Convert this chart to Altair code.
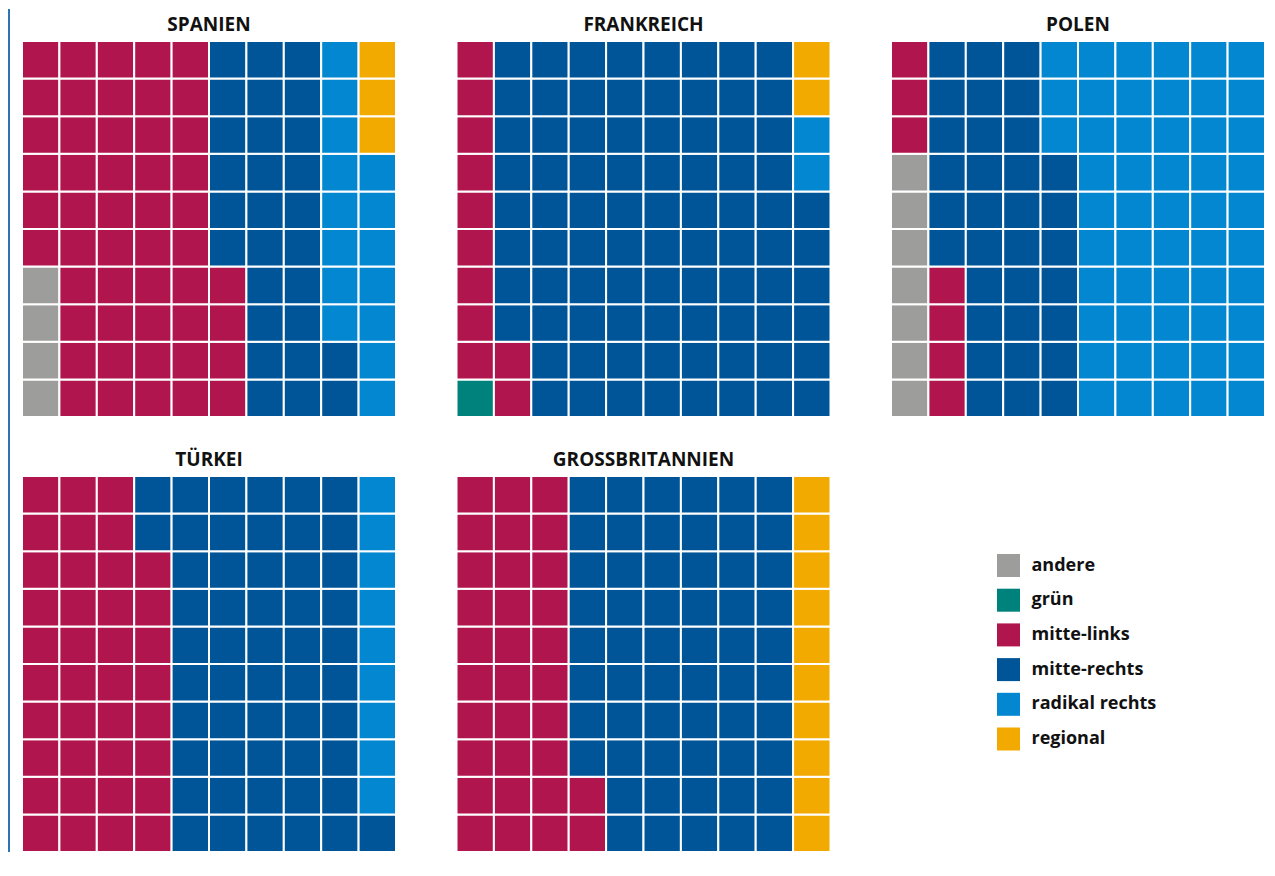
import altair as alt
import pandas as pd

countries = ["SPANIEN", "FRANKREICH", "POLEN", "TÜRKEI", "GROSSBRITANNIEN"]
categories = ["andere", "grün", "mitte-links", "mitte-rechts", "radikal rechts", "regional"]
colors = ["#9d9d9c", "#00827c", "#b0154d", "#005598", "#0287d0", "#f2a900"]

# number of cells (out of 100) per category, in the order of `categories`
spanien = [4, 0, 50, 28, 15, 3]
frankreich = [0, 1, 11, 84, 2, 2]
polen = [7, 0, 7, 33, 53, 0]
tuerkei = [0, 0, 38, 53, 9, 0]
grossbritannien = [0, 0, 32, 58, 0, 10]

counts = [spanien, frankreich, polen, tuerkei, grossbritannien]

rows = []
for land, cnt in zip(countries, counts):
    i = 0
    for cat, n in zip(categories, cnt):
        for _ in range(n):
            rows.append({"land": land, "kategorie": cat, "col": i // 10, "row": i % 10})
            i += 1
df = pd.DataFrame(rows)

FONT = "Open Sans"
W, H = 374, 376
COL_GAP, ROW_GAP = 60.5, 59

color = alt.Color(
    "kategorie:N",
    scale=alt.Scale(domain=categories, range=colors),
    legend=alt.Legend(
        orient="none", legendX=975, legendY=513, title=None,
        symbolType="square", symbolSize=529, symbolStrokeWidth=0, symbolOpacity=1,
        labelFontSize=18, labelFont=FONT, labelFontWeight="bold", labelColor="#111111",
        rowPadding=11.7, labelOffset=11.5, padding=0, labelLimit=300,
    ),
)


def panel(name):
    return (
        alt.Chart(df)
        .transform_filter(alt.datum.land == name)
        .mark_rect(stroke="white", strokeWidth=2)
        .encode(
            x=alt.X("col:O", axis=None, scale=alt.Scale(domain=list(range(10)))),
            y=alt.Y("row:O", axis=None, scale=alt.Scale(domain=list(range(9, -1, -1)))),
            color=color,
        )
        .properties(
            width=W, height=H,
            title=alt.TitleParams(
                name, fontSize=19, font=FONT, fontWeight="bold", color="#111111",
                anchor="middle", baseline="alphabetic", offset=-10,
            ),
        )
    )


panels = [panel(c) for c in countries]

# page decoration: thin blue rule along the left edge, drawn from the empty sixth slot
edge = (
    alt.Chart(pd.DataFrame({"v": [0]}))
    .mark_rule(color="#2e74b5", strokeWidth=2)
    .encode(
        x=alt.value(-2 * (W + COL_GAP) - 13),
        y=alt.value(-(H + ROW_GAP + 32)),
        y2=alt.value(H),
    )
    .properties(width=W, height=H)
)

chart = (
    alt.concat(*panels, edge, columns=3, spacing={"row": ROW_GAP, "column": COL_GAP}, bounds="flush")
    .properties(padding=0)
    .configure_view(stroke=None)
)

chart.save("out.html", embed_options={"renderer": "svg", "actions": False})
